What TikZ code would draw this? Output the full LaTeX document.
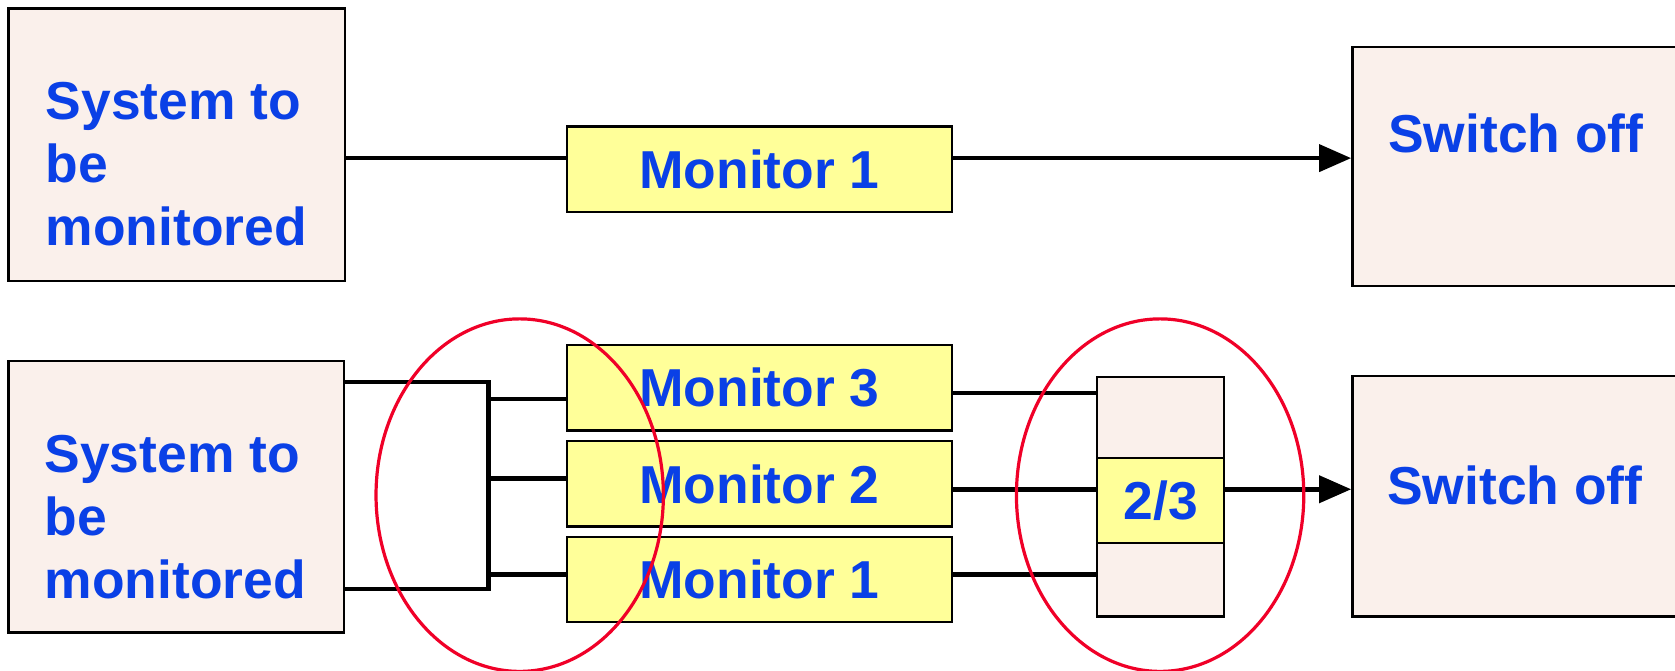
\documentclass[tikz,border=0pt]{standalone}
\usepackage{fontspec}
\setmainfont{Liberation Sans}
\usetikzlibrary{arrows.meta,shapes.geometric}
\definecolor{txtblue}{RGB}{10,64,230}
\definecolor{boxfill}{RGB}{250,240,235}
\definecolor{monfill}{RGB}{255,255,153}
\definecolor{ellred}{RGB}{240,0,40}
\begin{document}
\begin{tikzpicture}[x=0.5pt,y=-0.5pt,
  lbl/.style={font=\fontsize{25pt}{29.5pt}\selectfont\bfseries, text=txtblue, inner sep=0pt},
  pinkbox/.style={draw=black, line width=1.1pt, fill=boxfill, rectangle, inner sep=0pt},
  monbox/.style={draw=black, line width=1.1pt, fill=monfill, rectangle, inner sep=0pt,
    minimum width=180pt, minimum height=40pt, lbl},
  conn/.style={draw=black, line width=2.2pt, line join=miter},
  arr/.style={conn, -{Triangle[length=15pt,width=12.5pt]}},
  ring/.style={draw=ellred, line width=1.5pt, ellipse, inner sep=0pt,
    minimum width=134.5pt, minimum height=165pt}]
\useasboundingbox (0,0) rectangle (1568,628);
\clip (0,0) rectangle (1568,628);
\fill[white] (0,0) rectangle (1568,628);
% ---------- top row ----------
\node[pinkbox, minimum width=157.5pt, minimum height=127.5pt] (sys1) at (165.5,135.5) {};
\node[lbl, align=left] (sys1t) at (165,154) {System to\\be\\monitored};
\node[monbox] (mon1a) at (711,158.5) {Monitor 1};
\node[pinkbox, minimum width=170pt, minimum height=112pt] (sw1) at (1436,156) {};
\node[lbl] (sw1t) at (1419,125) {Switch off};
\draw[conn] (sys1.east |- 0,148) -- (mon1a.west |- 0,148);
\draw[arr] (mon1a.east |- 0,148) -- (sw1.west |- 0,148);
% ---------- bottom row ----------
\node[pinkbox, minimum width=157pt, minimum height=127pt] (sys2) at (165,465) {};
\node[lbl, align=left] (sys2t) at (164,484) {System to\\be\\monitored};
\node[monbox] (mon3) at (711,363) {Monitor 3};
\node[monbox] (mon2) at (711,453) {Monitor 2};
\node[monbox] (mon1b) at (711,542.5) {Monitor 1};
\node[pinkbox, minimum width=59.5pt, minimum height=38pt] (vtop) at (1086.5,391) {};
\node[pinkbox, minimum width=59.5pt, minimum height=34.5pt] (vbot) at (1086.5,542.5) {};
\node[pinkbox, fill=monfill, minimum width=59.5pt, minimum height=39.5pt, lbl] (vmid) at (1086.5,468.5) {2/3};
\node[pinkbox, minimum width=170pt, minimum height=112.5pt] (sw2) at (1436,464.5) {};
\node[lbl] (sw2t) at (1418,454) {Switch off};
\coordinate (bt) at (457,357.5);
\coordinate (bb) at (457,551.5);
\draw[conn] (sys2.east |- bt) -- (bt) -- (bb) -- (sys2.east |- bb);
\draw[conn] (bt |- 0,373.5) -- (mon3.west |- 0,373.5);
\draw[conn] (bt |- 0,448) -- (mon2.west |- 0,448);
\draw[conn] (bt |- 0,538) -- (mon1b.west |- 0,538);
\draw[conn] (mon3.east |- 0,368) -- (vtop.west |- 0,368);
\draw[conn] (mon2.east |- 0,458) -- (vmid.west |- 0,458);
\draw[conn] (mon1b.east |- 0,538) -- (vbot.west |- 0,538);
\draw[arr] (vmid.east |- 0,458) -- (sw2.west |- 0,458);
% ---------- red rings ----------
\node[ring] (ring1) at (486.5,463.5) {};
\node[ring] (ring2) at (1086,463.5) {};
\end{tikzpicture}
\end{document}
